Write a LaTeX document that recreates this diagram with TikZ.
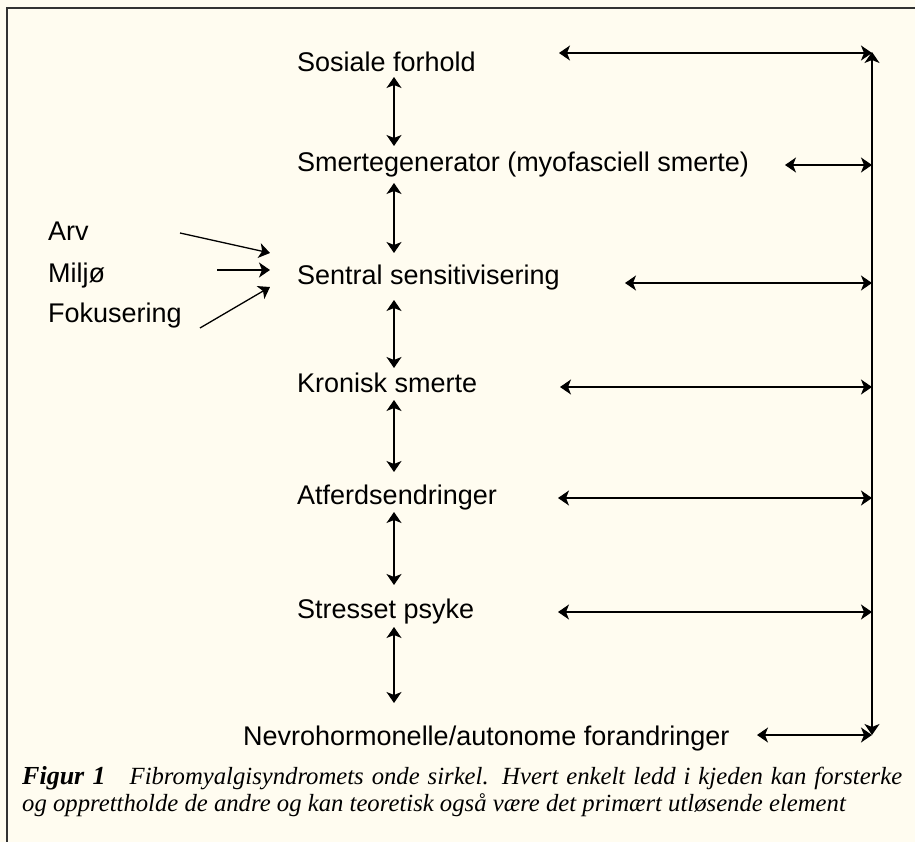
\documentclass[tikz,border=0pt]{standalone}
\usepackage{fontspec}
\setmainfont{Liberation Sans}
\newfontfamily\capfont{Liberation Serif}
\usetikzlibrary{arrows.meta}
\definecolor{bgcream}{RGB}{255,252,240}
\definecolor{framegray}{RGB}{50,50,50}
\tikzset{
  lbl/.style={anchor=base west,inner sep=0pt,font=\fontsize{27}{32}\selectfont},
  captext/.style={anchor=base west,inner sep=0pt,font=\capfont\itshape\fontsize{24.7}{28}\selectfont},
  dbl/.style={line width=1.3pt,{Stealth[length=11pt,width=15pt,inset=3pt]}-{Stealth[length=11pt,width=15pt,inset=3pt]}},
  sgl/.style={line width=1.3pt,-{Stealth[length=11pt,width=15pt,inset=3pt]}}
}
\begin{document}
\begin{tikzpicture}[x=1pt,y=-1pt]
\fill[bgcream] (0,0) rectangle (915,842);
\useasboundingbox (0,0) rectangle (915,842);
\draw[framegray,line width=1.6pt] (7,842) -- (7,8) -- (915,8);

% main chain
\node[lbl] (sos) at (297,72) {Sosiale forhold};
\node[lbl] (smg) at (297,172) {Smertegenerator (myofasciell smerte)};
\node[lbl] (sen) at (297,284) {Sentral sensitivisering};
\node[lbl] (kro) at (297,392) {Kronisk smerte};
\node[lbl] (atf) at (297,504) {Atferdsendringer};
\node[lbl] (str) at (297,618) {Stresset psyke};
\node[lbl] (nev) at (243,745) {Nevrohormonelle/autonome forandringer};

% left inputs
\node[lbl] (arv) at (48,241) {Arv};
\node[lbl] (mil) at (48,282) {Miljø};
\node[lbl] (fok) at (48,322) {Fokusering};

\coordinate (arvs) at (180,233);
\coordinate (arve) at (270,253);
\coordinate (mils) at (217,270);
\coordinate (mile) at (270,270);
\coordinate (foks) at (200,328);
\coordinate (foke) at (270,287);
\draw[sgl] (arvs) -- (arve);
\draw[sgl] (mils) -- (mile);
\draw[sgl] (foks) -- (foke);

% vertical chain arrows
\foreach \a/\b [count=\i] in {77/146, 183/253, 300/368, 400/472, 512/585, 627/703}{
  \coordinate (vt\i) at (394,\a);
  \coordinate (vb\i) at (394,\b);
  \draw[dbl] (vt\i) -- (vb\i);
}

% right loop
\coordinate (rtop) at (872,52);
\coordinate (rbot) at (872,735);
\draw[dbl] (rbot) -- (rtop);

\foreach \xs/\yy [count=\i] in {559/53, 785/165, 625/283, 560/387, 558/498, 558/612, 757/735}{
  \coordinate (hs\i) at (\xs,\yy);
  \coordinate (he\i) at (872,\yy);
  \draw[dbl] (hs\i) -- (he\i);
}

% caption
\node[captext] (cap1) at (22,784) {\makebox[880pt][s]{{\fontsize{26}{28}\selectfont\textbf{Figur 1}}\hspace{24pt}Fibromyalgisyndromets onde sirkel. Hvert enkelt ledd i kjeden kan forsterke}};
\node[captext] (cap2) at (22,811) {og opprettholde de andre og kan teoretisk også være det primært utløsende element};
\end{tikzpicture}
\end{document}
